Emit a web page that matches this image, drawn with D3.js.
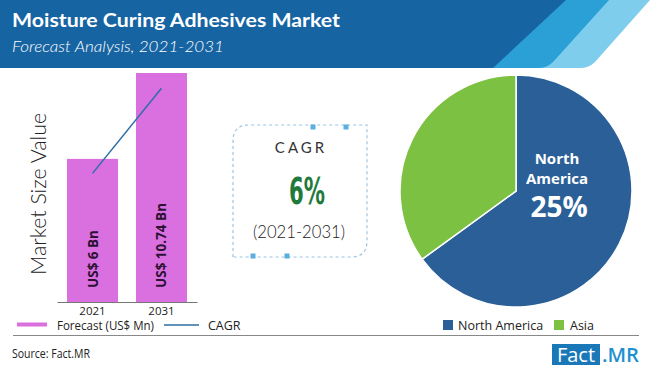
<!DOCTYPE html>
<html>
<head>
<meta charset="utf-8">
<script src="https://cdn.jsdelivr.net/npm/d3@7"></script>
<style>
  html, body { margin: 0; padding: 0; background: #ffffff; }
  svg { display: block; }
</style>
</head>
<body>
<div id="chart"></div>
<script>
// ---------- data ----------
const years = ["2021", "2031"];
const marketValues = [6, 10.74];
const barLabels = ["US$ 6 Bn", "US$ 10.74 Bn"];
const cagrLineValues = [5.2, 9.9];
const regions = ["North America", "Asia"];
const regionShares = [65, 35];
const titleText = "Moisture Curing Adhesives Market";
const subtitleText = "Forecast Analysis, 2021-2031";
const cagrValue = "6%";
const cagrPeriod = "(2021-2031)";
const pieLabelLines = ["North", "America"];
const pieLabelValue = "25%";
const barLegend = ["Forecast (US$ Mn)", "CAGR"];
const sourceText = "Source: Fact.MR";

// ---------- setup ----------
const W = 650, H = 369;
const svg = d3.select("#chart").append("svg").attr("width", W).attr("height", H);

const C = {
  headerDark: "#1764a3",
  headerMid: "#2aa0d6",
  headerLight: "#7fcdec",
  bar: "#da6fdf",
  line: "#2c6ea6",
  pieBlue: "#2a5f98",
  pieGreen: "#7dc143",
  green: "#1f7a3b",
  text: "#333333"
};

// ---------- header ----------
const hdr = svg.append("g");
hdr.append("path").attr("fill", C.headerLight)
  .attr("d", "M0,0 L650,0 L595,62 Q589,68 580,68 L0,68 Z");
hdr.append("path").attr("fill", C.headerMid)
  .attr("d", "M0,0 L609,0 L553,62 Q547,68 538,68 L0,68 Z");
hdr.append("path").attr("fill", C.headerDark)
  .attr("d", "M0,0 L566,0 L493,68 L0,68 Z");

hdr.append("text").attr("x", 12).attr("y", 27)
  .attr("fill", "#fff").attr("font-family", "Lato, 'Open Sans', sans-serif")
  .attr("font-weight", 700).attr("font-size", 19)
  .attr("textLength", 328).attr("lengthAdjust", "spacingAndGlyphs")
  .text(titleText);
hdr.append("text").attr("x", 12).attr("y", 52)
  .attr("fill", "#fff").attr("font-family", "Lato, 'Open Sans', sans-serif")
  .attr("font-weight", 300).attr("font-style", "italic").attr("font-size", 15)
  .attr("textLength", 212).attr("lengthAdjust", "spacingAndGlyphs")
  .text(subtitleText);

// ---------- bar chart ----------
const x = d3.scaleBand().domain(years).range([57, 197]).paddingInner(0.26).paddingOuter(0.145);
const y = d3.scaleLinear().domain([-1.9, 10.74]).range([302, 73]);

const bars = svg.append("g");
bars.selectAll("rect").data(marketValues).join("rect")
  .attr("x", (d, i) => x(years[i]))
  .attr("width", x.bandwidth())
  .attr("y", d => y(d))
  .attr("height", d => y.range()[0] - y(d))
  .attr("fill", C.bar);

const barLabelLen = [58, 85];
bars.selectAll("text.bl").data(barLabels).join("text")
  .attr("class", "bl")
  .attr("transform", (d, i) => `translate(${x(years[i]) + x.bandwidth() / 2 + 5},288) rotate(-90)`)
  .attr("fill", "#2b1233")
  .attr("font-family", "'Open Sans', 'Noto Sans', sans-serif")
  .attr("font-weight", 700).attr("font-size", 13.5)
  .attr("textLength", (d, i) => barLabelLen[i]).attr("lengthAdjust", "spacingAndGlyphs")
  .text(d => d);

const line = d3.line()
  .x((d, i) => x(years[i]) + x.bandwidth() / 2)
  .y(d => y(d));
svg.append("path").datum(cagrLineValues)
  .attr("d", line).attr("fill", "none").attr("stroke", C.line).attr("stroke-width", 1.5);

// x axis
const xAxis = svg.append("g").attr("transform", "translate(0,302)")
  .call(d3.axisBottom(x).tickSize(0).tickPadding(5));
xAxis.select(".domain").attr("stroke", "#777").attr("stroke-width", 1.2);
xAxis.selectAll("text").attr("font-family", "'Open Sans', 'Noto Sans', sans-serif")
  .attr("font-size", 11.5).attr("fill", "#222");

// y axis title
svg.append("text")
  .attr("transform", "translate(46,194) rotate(-90)")
  .attr("text-anchor", "middle")
  .attr("font-family", "Lato, 'Open Sans', sans-serif").attr("font-weight", 300)
  .attr("font-size", 22).attr("fill", "#222")
  .attr("textLength", 162).attr("lengthAdjust", "spacingAndGlyphs")
  .text("Market Size Value");

// bar legend
const lg = svg.append("g").attr("font-family", "'Open Sans', 'Noto Sans', sans-serif")
  .attr("font-size", 12.5).attr("fill", "#222");
lg.append("rect").attr("x", 17).attr("y", 322.5).attr("width", 30).attr("height", 4).attr("fill", C.bar);
lg.append("text").attr("x", 57).attr("y", 330).attr("textLength", 97).attr("lengthAdjust", "spacingAndGlyphs").text(barLegend[0]);
lg.append("line").attr("x1", 164).attr("x2", 199).attr("y1", 325).attr("y2", 325).attr("stroke", C.line).attr("stroke-width", 1.5);
lg.append("text").attr("x", 208).attr("y", 330).text(barLegend[1]);

// ---------- CAGR box ----------
const box = svg.append("g");
box.append("path")
  .attr("d", "M233,257 L233,141 Q233,125 249,125 L367,125 L367,241 Q367,257 351,257 Z")
  .attr("fill", "none").attr("stroke", "#9cc3df").attr("stroke-width", 1.2)
  .attr("stroke-dasharray", "3,3");
[[313, 127], [346, 127], [253, 256], [287, 256]].forEach(p => {
  box.append("rect").attr("x", p[0] - 2.5).attr("y", p[1] - 2.5).attr("width", 5).attr("height", 5)
    .attr("fill", "#5aaee0");
});
box.append("text").attr("x", 301).attr("y", 153).attr("text-anchor", "middle")
  .attr("font-family", "Lato, 'Open Sans', sans-serif").attr("font-weight", 400)
  .attr("font-size", 15).attr("letter-spacing", 3).attr("fill", C.text).text("CAGR");
box.append("text").attr("x", 307).attr("y", 204).attr("text-anchor", "middle")
  .attr("font-family", "'DejaVu Sans Condensed', 'Liberation Sans Narrow', sans-serif")
  .attr("font-weight", 700).attr("font-size", 37).attr("fill", C.green)
  .attr("textLength", 36).attr("lengthAdjust", "spacingAndGlyphs")
  .text(cagrValue);
box.append("text").attr("x", 299).attr("y", 238).attr("text-anchor", "middle")
  .attr("font-family", "Lato, 'Open Sans', sans-serif").attr("font-weight", 300)
  .attr("font-size", 17).attr("fill", "#222")
  .attr("textLength", 92).attr("lengthAdjust", "spacingAndGlyphs")
  .text(cagrPeriod);

// ---------- pie ----------
const pieColor = d3.scaleOrdinal().domain(regions).range([C.pieBlue, C.pieGreen]);
const pie = d3.pie().sort(null).value(d => d);
const arc = d3.arc().innerRadius(0).outerRadius(116);
const pg = svg.append("g").attr("transform", "translate(516,191)");
pg.selectAll("path").data(pie(regionShares)).join("path")
  .attr("d", arc)
  .attr("fill", (d, i) => pieColor(regions[i]))
  .attr("stroke", "#ffffff").attr("stroke-width", 1.5);

const pl = svg.append("g").attr("fill", "#fff").attr("text-anchor", "middle")
  .attr("font-family", "'Open Sans', 'Noto Sans', sans-serif").attr("font-weight", 700);
pl.append("text").attr("x", 557).attr("y", 164).attr("font-size", 15).text(pieLabelLines[0]);
pl.append("text").attr("x", 557).attr("y", 184).attr("font-size", 15).text(pieLabelLines[1]);
pl.append("text").attr("x", 559).attr("y", 217).attr("font-size", 28).text(pieLabelValue);

// pie legend
const plg = svg.append("g").attr("font-family", "'Open Sans', 'Noto Sans', sans-serif")
  .attr("font-size", 12.5).attr("fill", "#222");
const legX = [443, 554], legTX = [458, 570];
regions.forEach((r, i) => {
  plg.append("rect").attr("x", legX[i]).attr("y", 320).attr("width", 10).attr("height", 10).attr("fill", pieColor(r));
  plg.append("text").attr("x", legTX[i]).attr("y", 329.5).text(r);
});

// ---------- footer ----------
svg.append("line").attr("x1", 13).attr("x2", 639).attr("y1", 335.5).attr("y2", 335.5)
  .attr("stroke", "#888").attr("stroke-width", 1);
svg.append("text").attr("x", 12).attr("y", 358)
  .attr("font-family", "'Open Sans', 'Noto Sans', sans-serif").attr("font-size", 12).attr("fill", "#222")
  .attr("textLength", 78).attr("lengthAdjust", "spacingAndGlyphs")
  .text(sourceText);
svg.append("rect").attr("x", 552).attr("y", 344).attr("width", 48).attr("height", 21).attr("fill", "#1a78b8");
svg.append("text").attr("x", 576).attr("y", 362).attr("text-anchor", "middle")
  .attr("font-family", "'Open Sans', 'Noto Sans', sans-serif").attr("font-size", 20).attr("fill", "#fff")
  .text("Fact");
svg.append("text").attr("x", 602).attr("y", 362)
  .attr("font-family", "'Open Sans', 'Noto Sans', sans-serif").attr("font-weight", 600).attr("font-size", 20).attr("fill", "#1e90d2")
  .attr("textLength", 37).attr("lengthAdjust", "spacingAndGlyphs")
  .text(".MR");
</script>
</body>
</html>
